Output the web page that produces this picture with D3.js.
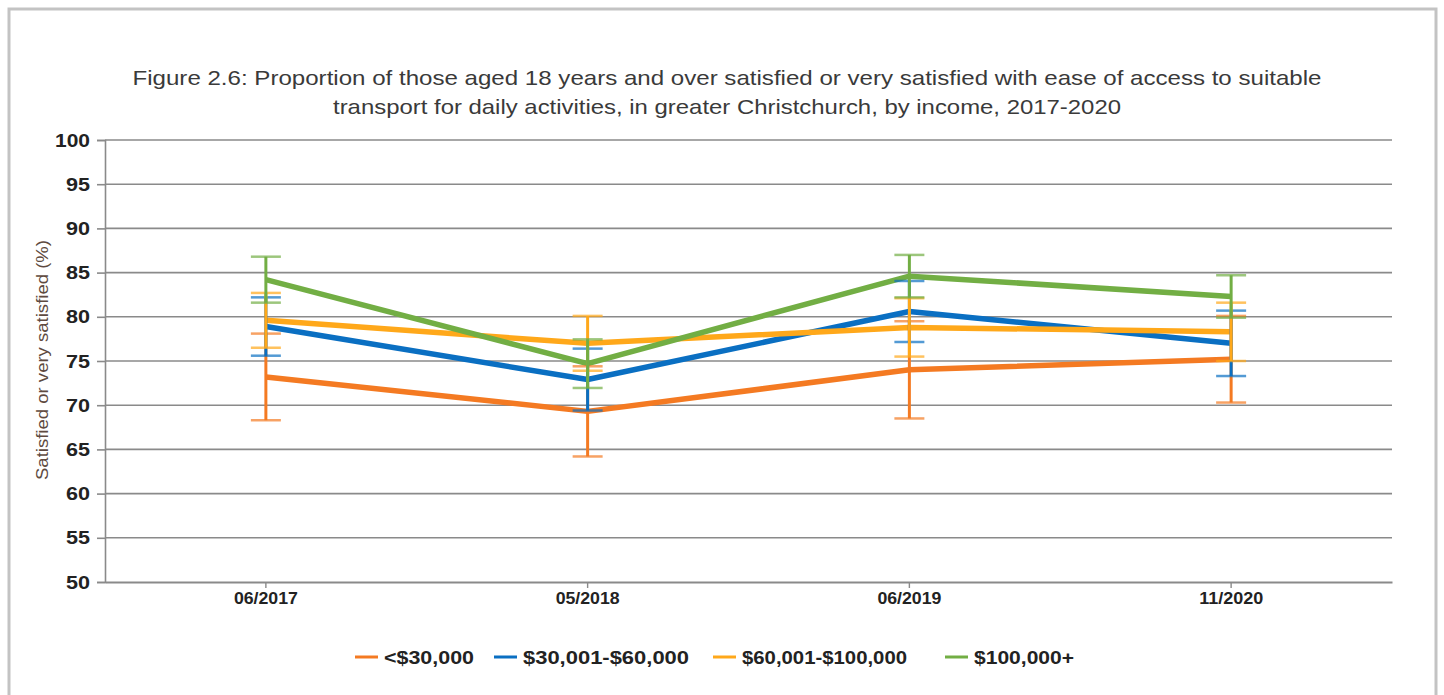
<!DOCTYPE html>
<html><head><meta charset="utf-8">
<script src="https://cdn.jsdelivr.net/npm/d3@7/dist/d3.min.js"></script>
<style>html,body{margin:0;padding:0;background:#fff;}svg{display:block;}</style>
</head><body>
<script>
const categories = ["06/2017","05/2018","06/2019","11/2020"];
const seriesNames = ["<$30,000","$30,001-$60,000","$60,001-$100,000","$100,000+"];
const seriesColors = ["#F47A22","#0a6fc2","#FFA81A","#72AE44"];
const low30 = [73.2, 69.3, 74.0, 75.2];
const mid30_60 = [78.9, 72.9, 80.6, 77.0];
const mid60_100 = [79.6, 77.0, 78.8, 78.3];
const high100 = [84.2, 74.7, 84.6, 82.3];
const errLow30 = [4.9, 5.1, 5.5, 4.9];
const errMid30_60 = [3.3, 3.5, 3.45, 3.7];
const errMid60_100 = [3.1, 3.1, 3.3, 3.3];
const errHigh100 = [2.6, 2.75, 2.4, 2.4];
const yTicks = [50,55,60,65,70,75,80,85,90,95,100];
const titleLines = ["Figure 2.6: Proportion of those aged 18 years and over satisfied or very satisfied with ease of access to suitable","transport for daily activities, in greater Christchurch, by income, 2017-2020"];
const yTitle = "Satisfied or very satisfied (%)";

const values = [low30, mid30_60, mid60_100, high100];
const errs = [errLow30, errMid30_60, errMid60_100, errHigh100];

const W = 1444, H = 695;
const svg = d3.select("body").append("svg").attr("width", W).attr("height", H);

// frame
svg.append("path").attr("d", `M9,${H} V9 H1436 V${H}`).attr("fill","none").attr("stroke","#c3c3c3").attr("stroke-width",3);

const L = 105, R = 1392, T = 140, B = 582;
const x = d3.scaleBand().domain(categories).range([L, R]);
const y = d3.scaleLinear().domain([50, 100]).range([B, T]);
const cx = c => x(c) + x.bandwidth()/2;

// title
const titleW = [1189, 788];
svg.append("g").selectAll("text").data(titleLines).join("text")
  .attr("x", 727).attr("y", (d,i) => 85 + i*29)
  .attr("text-anchor","middle")
  .attr("font-family","Liberation Sans, Arial, sans-serif")
  .attr("font-size", 21).attr("fill","#3a3a3a")
  .attr("textLength",(d,i) => titleW[i]).attr("lengthAdjust","spacingAndGlyphs")
  .text(d => d);

// grid
svg.append("g").selectAll("line").data(yTicks.filter(t => t > 50)).join("line")
  .attr("x1", L).attr("x2", R).attr("y1", d => y(d)).attr("y2", d => y(d))
  .attr("stroke","#8a8a8a").attr("stroke-width",1.6);

// y axis
const yAxis = svg.append("g").attr("transform",`translate(${L},0)`)
  .call(d3.axisLeft(y).tickValues(yTicks).tickSize(8).tickPadding(7));
yAxis.select(".domain").attr("stroke","#8a8a8a").attr("stroke-width",1.6);
yAxis.selectAll(".tick line").attr("stroke","#8a8a8a").attr("stroke-width",1.6);
yAxis.selectAll("text").attr("font-family","Liberation Sans, Arial, sans-serif")
  .attr("font-size",19).attr("font-weight","bold").attr("fill","#222")
  .attr("textLength", d => String(d).length === 3 ? 35 : 24).attr("lengthAdjust","spacingAndGlyphs");

// x axis
const xAxis = svg.append("g").attr("transform",`translate(0,${B})`)
  .call(d3.axisBottom(x).tickSize(6).tickPadding(5).tickSizeOuter(0));
xAxis.select(".domain").attr("stroke","#8a8a8a").attr("stroke-width",2.2);
xAxis.selectAll(".tick line").attr("stroke","#8a8a8a").attr("stroke-width",1.4);
xAxis.selectAll("text").attr("font-family","Liberation Sans, Arial, sans-serif")
  .attr("font-size",16).attr("font-weight","bold").attr("fill","#222")
  .attr("textLength", 64).attr("lengthAdjust","spacingAndGlyphs");

// y title
svg.append("text").attr("transform",`translate(48,${(T+B)/2 - 1}) rotate(-90)`)
  .attr("text-anchor","middle").attr("font-family","Liberation Sans, Arial, sans-serif")
  .attr("font-size",16).attr("fill","#5e4a40")
  .attr("textLength",240).attr("lengthAdjust","spacingAndGlyphs").text(yTitle);

// lines
const line = d3.line().x((d,i) => cx(categories[i])).y(d => y(d));
svg.append("g").selectAll("path").data(values).join("path")
  .attr("d", d => line(d)).attr("fill","none")
  .attr("stroke",(d,i) => seriesColors[i]).attr("stroke-width",5.5).attr("stroke-linejoin","round");

// error bars
values.forEach((vals, s) => {
  const g = svg.append("g");
  vals.forEach((v, i) => {
    const e = errs[s][i], xc = cx(categories[i]);
    g.append("line").attr("x1",xc).attr("x2",xc).attr("y1",y(v+e)).attr("y2",y(v-e))
      .attr("stroke",seriesColors[s]).attr("stroke-width",3);
    [v+e, v-e].forEach(t => g.append("line").attr("x1",xc-15).attr("x2",xc+15).attr("y1",y(t)).attr("y2",y(t))
      .attr("stroke",seriesColors[s]).attr("stroke-opacity",0.7).attr("stroke-width",2.5));
  });
});

// legend
const legX = [355, 494, 713, 945];
const legTextW = [90, 166, 165, 100];
const leg = svg.append("g").selectAll("g").data(seriesNames).join("g")
  .attr("transform",(d,i) => `translate(${legX[i]},657)`);
leg.append("line").attr("x1",0).attr("x2",23).attr("y1",0).attr("y2",0)
  .attr("stroke",(d,i) => seriesColors[i]).attr("stroke-width",3);
leg.append("text").attr("x",29).attr("y",7).attr("font-family","Liberation Sans, Arial, sans-serif")
  .attr("font-size",18).attr("font-weight","bold").attr("fill","#222")
  .attr("textLength",(d,i) => legTextW[i]).attr("lengthAdjust","spacingAndGlyphs").text(d => d);
</script>
</body></html>
